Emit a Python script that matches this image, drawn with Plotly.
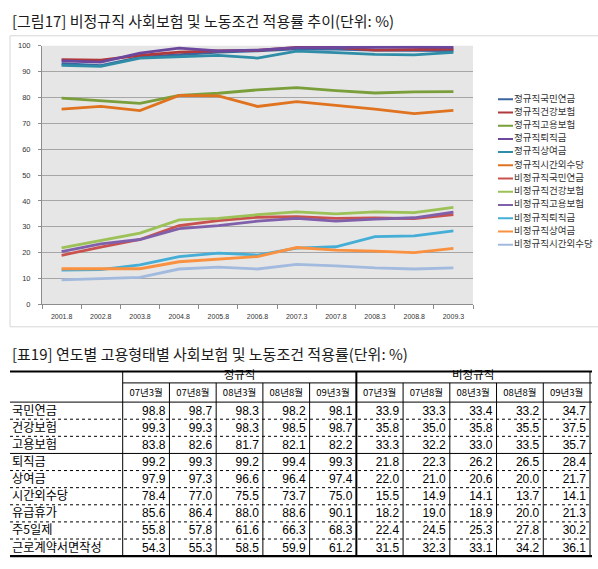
import plotly.graph_objects as go

# ---- chart data (2007.3 onwards = table values) ----
periods = ["2001.8", "2002.8", "2003.8", "2004.8", "2005.8", "2006.8",
           "2007.3", "2007.8", "2008.3", "2008.8", "2009.3"]

reg_pension = [93.0, 92.3, 95.5, 96.4, 97.5, 98.0, 98.8, 98.7, 98.3, 98.2, 98.1]
reg_health = [94.6, 94.4, 96.2, 97.5, 98.0, 98.2, 99.3, 99.3, 98.3, 98.5, 98.7]
reg_employ = [79.7, 78.8, 77.7, 80.8, 81.6, 82.9, 83.8, 82.6, 81.7, 82.1, 82.2]
reg_retire = [94.1, 93.6, 97.1, 99.0, 98.0, 98.3, 99.2, 99.3, 99.2, 99.4, 99.3]
reg_bonus = [92.4, 92.0, 95.2, 95.8, 96.2, 95.2, 97.9, 97.3, 96.6, 96.4, 97.4]
reg_overtime = [75.5, 76.5, 74.9, 80.8, 80.6, 76.5, 78.4, 77.0, 75.5, 73.7, 75.0]

non_pension = [19.0, 22.2, 25.1, 30.5, 32.4, 33.7, 33.9, 33.3, 33.4, 33.2, 34.7]
non_health = [21.9, 24.8, 27.6, 32.7, 33.3, 34.7, 35.8, 35.0, 35.8, 35.5, 37.5]
non_employ = [20.4, 23.4, 25.1, 29.3, 30.5, 32.2, 33.3, 32.2, 33.0, 33.5, 35.7]
non_retire = [13.3, 13.5, 15.3, 18.5, 19.8, 19.1, 21.8, 22.3, 26.2, 26.5, 28.4]
non_bonus = [13.8, 13.7, 13.8, 16.5, 17.5, 18.5, 22.0, 21.0, 20.6, 20.0, 21.7]
non_overtime = [9.5, 9.9, 10.5, 13.7, 14.4, 13.7, 15.5, 14.9, 14.1, 13.7, 14.1]

series_names = ["정규직국민연금", "정규직건강보험", "정규직고용보험", "정규직퇴직금",
                "정규직상여금", "정규직시간외수당", "비정규직국민연금", "비정규직건강보험",
                "비정규직고용보험", "비정규직퇴직금", "비정규직상여금", "비정규직시간외수당"]
series_values = [reg_pension, reg_health, reg_employ, reg_retire, reg_bonus, reg_overtime,
                 non_pension, non_health, non_employ, non_retire, non_bonus, non_overtime]
series_colors = ["#3B64A0", "#B0393B", "#7A9E3A", "#6B479E", "#2F8DA8", "#E0731F",
                 "#C9524F", "#9CC156", "#8060AA", "#44AED6", "#FA9140", "#A3BADF"]

# ---- table data ----
tbl_groups = ["정규직", "비정규직"]
tbl_months = ["07년3월", "07년8월", "08년3월", "08년8월", "09년3월"]
tbl_items = ["국민연금", "건강보험", "고용보험", "퇴직금", "상여금", "시간외수당",
             "유급휴가", "주5일제", "근로계약서면작성"]
tbl_pension = [98.8, 98.7, 98.3, 98.2, 98.1, 33.9, 33.3, 33.4, 33.2, 34.7]
tbl_health = [99.3, 99.3, 98.3, 98.5, 98.7, 35.8, 35.0, 35.8, 35.5, 37.5]
tbl_employ = [83.8, 82.6, 81.7, 82.1, 82.2, 33.3, 32.2, 33.0, 33.5, 35.7]
tbl_retire = [99.2, 99.3, 99.2, 99.4, 99.3, 21.8, 22.3, 26.2, 26.5, 28.4]
tbl_bonus = [97.9, 97.3, 96.6, 96.4, 97.4, 22.0, 21.0, 20.6, 20.0, 21.7]
tbl_overtime = [78.4, 77.0, 75.5, 73.7, 75.0, 15.5, 14.9, 14.1, 13.7, 14.1]
tbl_leave = [85.6, 86.4, 88.0, 88.6, 90.1, 18.2, 19.0, 18.9, 20.0, 21.3]
tbl_5day = [55.8, 57.8, 61.6, 66.3, 68.3, 22.4, 24.5, 25.3, 27.8, 30.2]
tbl_contract = [54.3, 55.3, 58.5, 59.9, 61.2, 31.5, 32.3, 33.1, 34.2, 36.1]
tbl_rows = [tbl_pension, tbl_health, tbl_employ, tbl_retire, tbl_bonus,
            tbl_overtime, tbl_leave, tbl_5day, tbl_contract]

chart_title = "[그림17] 비정규직 사회보험 및 노동조건 적용률 추이(단위: %)"
table_title = "[표19] 연도별 고용형태별 사회보험 및 노동조건 적용률(단위: %)"

W, H = 598, 569
KR = "Noto Sans CJK KR"
NUM = "Liberation Sans Narrow, Liberation Sans, Arial"

fig = go.Figure()

# chart lines
for name, vals, col in zip(series_names, series_values, series_colors):
    fig.add_trace(go.Scatter(x=periods, y=vals, mode="lines", name=name,
                             line=dict(color=col, width=2.8), showlegend=False,
                             xaxis="x", yaxis="y"))

# hand-made legend (plotly's own legend rows can't be packed this tight)
LEG_TOP, LEG_STEP = 96.7, 13.45
for i, (name, col) in enumerate(zip(series_names, series_colors)):
    yy = LEG_TOP + i * LEG_STEP
    fig.add_trace(go.Scatter(x=[498, 513], y=[yy, yy], mode="lines",
                             line=dict(color=col, width=2), showlegend=False,
                             hoverinfo="skip", xaxis="x3", yaxis="y3"))
fig.add_trace(go.Scatter(x=[514] * len(series_names),
                         y=[LEG_TOP + i * LEG_STEP for i in range(len(series_names))],
                         text=series_names, mode="text", textposition="middle right",
                         textfont=dict(family=KR, size=9.5, color="#333333"),
                         showlegend=False, hoverinfo="skip", xaxis="x3", yaxis="y3"))

# ---- table geometry (pixel units on x2/y2) ----
T_LEFT, T_RIGHT = 10, 592
LAB_R = 122.7
COL_W = (590 - LAB_R) / 10
T_TOP, HDR_MID, HDR_BOT = 373.3, 385.0, 404.5
ROW_H = (561.0 - HDR_BOT) / len(tbl_items)
T_BOT = HDR_BOT + ROW_H * len(tbl_items)

shapes = []


def hline(y, x0, x1, width=1, dash="solid"):
    shapes.append(dict(type="line", xref="x2", yref="y2", x0=x0, x1=x1, y0=y, y1=y,
                       line=dict(color="#000000", width=width, dash=dash)))


def vline(x, y0, y1, width=1):
    shapes.append(dict(type="line", xref="x2", yref="y2", x0=x, x1=x, y0=y0, y1=y1,
                       line=dict(color="#000000", width=width)))


hline(T_TOP, T_LEFT, T_RIGHT, 2)
hline(HDR_MID, LAB_R, T_RIGHT)
hline(HDR_BOT, T_LEFT, T_RIGHT)
for r in range(1, len(tbl_items)):
    yy = HDR_BOT + r * ROW_H
    if r == 3:
        hline(yy, T_LEFT, T_RIGHT)
    else:
        hline(yy, T_LEFT, T_RIGHT, 1, "dot")
hline(T_BOT, T_LEFT, T_RIGHT, 2.2)

vline(LAB_R, T_TOP, T_BOT)
for c in range(1, 11):
    xx = LAB_R + c * COL_W
    if c == 5:
        vline(xx, T_TOP, T_BOT, 2)
    elif c == 10:
        vline(xx, T_TOP, T_BOT)
    else:
        vline(xx, HDR_MID, T_BOT)

# header texts
fig.add_trace(go.Scatter(x=[LAB_R + (g * 5 + 2.5) * COL_W for g in range(2)],
                         y=[377.6, 377.6], text=tbl_groups, mode="text",
                         textposition="middle center",
                         textfont=dict(family=KR, size=11.5, color="#000000"),
                         showlegend=False, hoverinfo="skip", xaxis="x2", yaxis="y2"))
month_labels = tbl_months * 2
fig.add_trace(go.Scatter(x=[LAB_R + (c + 0.5) * COL_W for c in range(10)],
                         y=[395.5] * 10, text=month_labels, mode="text",
                         textposition="middle center",
                         textfont=dict(family=KR, size=9.5, color="#000000"),
                         showlegend=False, hoverinfo="skip", xaxis="x2", yaxis="y2"))

# row labels and values
row_y = [HDR_BOT + (r + 0.5) * ROW_H + 1 for r in range(len(tbl_items))]
fig.add_trace(go.Scatter(x=[12] * len(tbl_items), y=row_y, text=tbl_items, mode="text",
                         textposition="middle right",
                         textfont=dict(family=KR, size=12.2, color="#000000"),
                         showlegend=False, hoverinfo="skip", xaxis="x2", yaxis="y2"))
cx, cy, ct = [], [], []
for r, row in enumerate(tbl_rows):
    for c, v in enumerate(row):
        cx.append(LAB_R + (c + 1) * COL_W - 4)
        cy.append(row_y[r])
        ct.append(f"{v:.1f}")
fig.add_trace(go.Scatter(x=cx, y=cy, text=ct, mode="text", textposition="middle left",
                         textfont=dict(family=NUM, size=12, color="#000000"),
                         showlegend=False, hoverinfo="skip", xaxis="x2", yaxis="y2"))

# plot-area fill and chart frame
shapes.append(dict(type="rect", xref="x domain", yref="y domain", x0=0, x1=1, y0=0, y1=1,
                   fillcolor="#E6E6E6", line=dict(width=0), layer="below"))
shapes.append(dict(type="rect", xref="paper", yref="paper", x0=10 / W, x1=1.01,
                   y0=1 - 328 / H, y1=1 - 32.3 / H,
                   line=dict(color="#D6D6D6", width=1), layer="below"))

fig.update_layout(
    width=W, height=H,
    margin=dict(l=0, r=0, t=0, b=0),
    paper_bgcolor="#FFFFFF",
    plot_bgcolor="rgba(0,0,0,0)",
    font=dict(family=KR, color="#333333"),
    showlegend=False,
    shapes=shapes,
    xaxis=dict(domain=[42 / W, 473 / W], type="category", range=[-0.5, 10.5],
               showline=True, linecolor="#8C8C8C", linewidth=1,
               ticks="outside", tickson="boundaries", ticklen=4, tickcolor="#8C8C8C",
               showgrid=False, tickfont=dict(family="Liberation Sans, Arial", size=7,
                                             color="#333333"),
               ticklabelstandoff=5, fixedrange=True),
    yaxis=dict(domain=[1 - 305.3 / H, 1 - 42.3 / H], range=[0, 100], dtick=10,
               showline=True, linecolor="#8C8C8C", linewidth=1,
               ticks="outside", ticklen=3, tickcolor="#8C8C8C",
               showgrid=True, gridcolor="#A6A6A6", gridwidth=1, zeroline=False,
               tickfont=dict(family="Liberation Sans, Arial", size=7.5, color="#333333"),
               ticklabelstandoff=6, fixedrange=True),
    xaxis2=dict(domain=[0, 1], range=[0, W], visible=False, fixedrange=True),
    yaxis2=dict(domain=[0, 1 - 365 / H], range=[H, 365], visible=False, fixedrange=True),
    xaxis3=dict(domain=[480 / W, 1], range=[480, W], visible=False, fixedrange=True),
    yaxis3=dict(domain=[1 - 262 / H, 1 - 85 / H], range=[262, 85], visible=False,
                fixedrange=True),
    annotations=[
        dict(text=chart_title, xref="paper", yref="paper", x=10 / W, y=1 - 16.5 / H,
             xanchor="left", yanchor="middle", showarrow=False,
             font=dict(family=KR, size=15, color="#1A1A1A")),
        dict(text=table_title, xref="paper", yref="paper", x=10 / W, y=1 - 355 / H,
             xanchor="left", yanchor="middle", showarrow=False,
             font=dict(family=KR, size=15, color="#1A1A1A")),
    ],
)

# the page's default 8px body margin would push the figure off the window
fig.write_html("out.html", config={"displayModeBar": False},
               post_script="document.body.style.margin='0';")
